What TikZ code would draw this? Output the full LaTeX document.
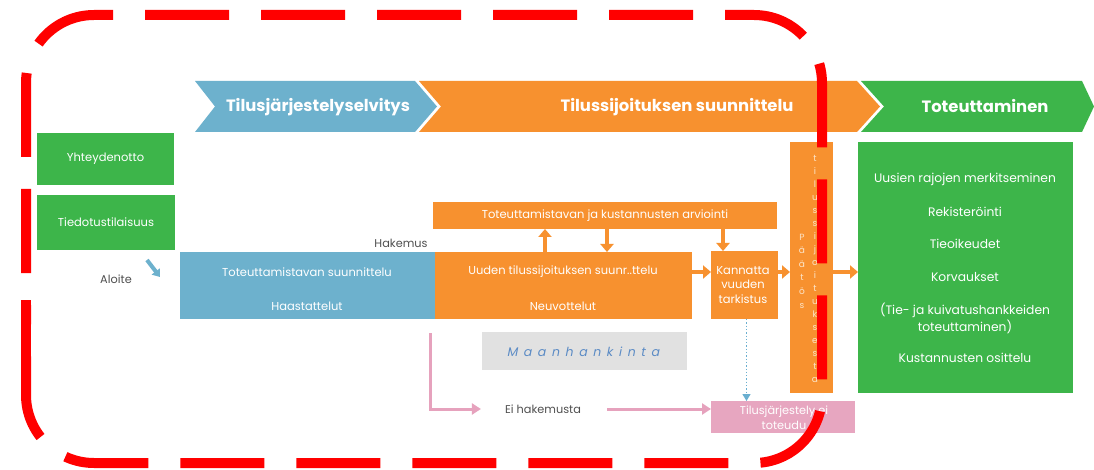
\documentclass[tikz,border=0pt]{standalone}
\usepackage{fontspec}
\setmainfont{Poppins}
\newfontfamily\maanfont[LetterSpace=45,FakeSlant=0.2]{Poppins}
\usetikzlibrary{arrows.meta}
\definecolor{cblue}{HTML}{6DB1CD}
\definecolor{corange}{HTML}{F7912F}
\definecolor{cgreen}{HTML}{3DB54A}
\definecolor{cgray}{HTML}{E1E1E1}
\definecolor{cpink}{HTML}{E7A6C0}
\definecolor{cpinkline}{HTML}{E6A2BD}
\definecolor{ctext}{HTML}{505050}
\definecolor{cmaan}{HTML}{5B8BC5}
\definecolor{cdot}{HTML}{6AAFD0}
\definecolor{cpale}{HTML}{FCE4C8}
\begin{document}
\begin{tikzpicture}[x=1pt,y=-1pt,
  rect/.style={inner sep=0pt, outer sep=0pt, draw=none},
  wtxt/.style={inner sep=0pt, text=white, font=\fontsize{11.5}{14}\selectfont, align=center},
  gtxt/.style={inner sep=0pt, text=white, font=\fontsize{12.3}{16}\selectfont, align=center},
  htxt/.style={inner sep=0pt, text=white, font=\bfseries\fontsize{16.4}{19}\selectfont},
  dtxt/.style={inner sep=0pt, text=ctext, font=\fontsize{11.3}{14}\selectfont},
  vtxt/.style={inner sep=0pt, text=cpale, align=center},
  oarrow/.style={corange, line width=4.5pt, -{Triangle[width=13pt,length=8pt]}},
  parrow/.style={cpinkline, line width=3pt, -{Triangle[width=11pt,length=9pt]}},
  barrow/.style={cblue, line width=4pt, -{Triangle[width=10pt,length=7pt]}},
  dotarrow/.style={cdot, line width=1.3pt, dotted, -{Triangle[width=8pt,length=7pt]}},
  reddash/.style={red, line width=10pt, dash pattern=on 84pt off 32pt, dash phase=84pt, rounded corners=68pt}
]
\useasboundingbox (0,0) rectangle (1094,470);
\fill[white] (0,0) rectangle (1094,470);

% header chevrons
\fill[cblue] (195,81) -- (415,81) -- (437,106.5) -- (415,132) -- (195,132) -- (215,106.5) -- cycle;
\fill[corange] (419,81) -- (857,81) -- (880,106.5) -- (857,132) -- (419,132) -- (441,106.5) -- cycle;
\fill[cgreen] (861,81) -- (1082,81) -- (1094,106.5) -- (1082,132) -- (861,132) -- (884,106.5) -- cycle;
\node[htxt] (h1) at (318,107) {Tilusjärjestelyselvitys};
\node[htxt] (h2) at (677,107) {Tilussijoituksen suunnittelu};
\node[htxt] (h3) at (985,106) {Toteuttaminen};

% left green boxes
\node[rect, fill=cgreen, minimum width=137pt, minimum height=52pt] (yht) at (105.5,159) {};
\node[wtxt] at (yht) {Yhteydenotto};
\node[rect, fill=cgreen, minimum width=138pt, minimum height=55pt] (tied) at (106,222.5) {};
\node[wtxt] at (tied) {Tiedotustilaisuus};

\node[dtxt] (aloite) at (116,279) {Aloite};
\coordinate (a1) at (147,260);
\coordinate (a2) at (160,277);
\draw[barrow] (a1) -- (a2);
\node[dtxt] (hak) at (401,243) {Hakemus};

% blue box
\node[rect, fill=cblue, minimum width=255pt, minimum height=67pt] (tot) at (307.5,285.5) {};
\node[wtxt] at (307,272) {Toteuttamistavan suunnittelu};
\node[wtxt] at (307,306) {Haastattelut};

% orange main box
\node[rect, fill=corange, minimum width=257pt, minimum height=67pt] (uus) at (563.5,285.5) {};
\node[wtxt] at (563,272) {Uuden tilussijoituksen suunr..ttelu};
\node[wtxt] at (563,306) {Neuvottelut};

% top orange box
\node[rect, fill=corange, minimum width=344pt, minimum height=27pt] (arv) at (605,215.5) {};
\node[wtxt] at (arv) {Toteuttamistavan ja kustannusten arviointi};

% Kannatta box
\node[rect, fill=corange, minimum width=67pt, minimum height=68pt] (kan) at (744.5,285) {};
\node[wtxt, font=\fontsize{11.5}{14.5}\selectfont] at (743,285) {Kannatta\\vuuden\\tarkistus};

% Paatos column
\node[rect, fill=corange, minimum width=43pt, minimum height=251pt] (pat) at (811.5,267.5) {};
\node[vtxt, font=\fontsize{9}{13.6}\selectfont] at (802,271) {P\\ä\\ä\\t\\ö\\s};
\node[vtxt, font=\fontsize{9}{13.05}\selectfont] at (815,269) {t\\i\\l\\u\\s\\s\\i\\j\\o\\i\\t\\u\\k\\s\\e\\s\\t\\a};

% big green box
\node[rect, fill=cgreen, minimum width=215pt, minimum height=251pt] (gbox) at (965.5,267.5) {};
\node[gtxt] at (965,179) {Uusien rajojen merkitseminen};
\node[gtxt] at (965,212) {Rekisteröinti};
\node[gtxt] at (965,244) {Tieoikeudet};
\node[gtxt] at (965,277) {Korvaukset};
\node[gtxt, font=\fontsize{12.3}{17}\selectfont] at (965,318.5) {(Tie- ja kuivatushankkeiden\\toteuttaminen)};
\node[gtxt] at (965,358) {Kustannusten osittelu};

% Maanhankinta
\node[rect, fill=cgray, minimum width=205pt, minimum height=38pt] (maan) at (584.5,351) {};
\node[inner sep=0pt, text=cmaan, font=\maanfont\fontsize{12.5}{15}\selectfont] at (583,352) {Maanhankinta};

% pink box
\node[rect, fill=cpink, minimum width=144pt, minimum height=32pt] (tnot) at (783,417) {};
\node[wtxt, font=\fontsize{11.3}{15}\selectfont] at (784,417.5) {Tilusjärjestely ei\\toteudu};

\node[dtxt] (ehak) at (543,409) {Ei hakemusta};

% orange arrows
\draw[oarrow] (uus.north -| 545,0) -- (arv.south -| 545,0);
\draw[oarrow] (arv.south -| 607,0) -- (uus.north -| 607,0);
\draw[oarrow] (arv.south -| 723,0) -- (kan.north -| 723,0);
\draw[oarrow] ([yshift=13.5pt]uus.east) -- ([yshift=13pt]kan.west);
\draw[oarrow] ([yshift=13pt]kan.east) -- ([yshift=-4.5pt]pat.west);
\draw[oarrow] ([yshift=-4.5pt]pat.east) -- ([yshift=-4.5pt]gbox.west);

% pink arrows
\coordinate (p0) at (430,333);
\coordinate (pc) at (430,409);
\draw[parrow] (p0) -- (pc) -- ([xshift=-24pt]ehak.west);
\draw[parrow] ([xshift=26pt]ehak.east) -- (tnot.west |- ehak);

% dotted arrow
\draw[dotarrow] ([xshift=2pt]kan.south) -- ([xshift=2pt]kan.south |- tnot.north);

% red dashed frame
\draw[reddash] (26,305) -- (26,15) -- (822,15) -- (822,463) -- (26,463) -- (26,305);
\draw[red, line width=10pt] (26,362) -- (26,300);
\end{tikzpicture}
\end{document}
